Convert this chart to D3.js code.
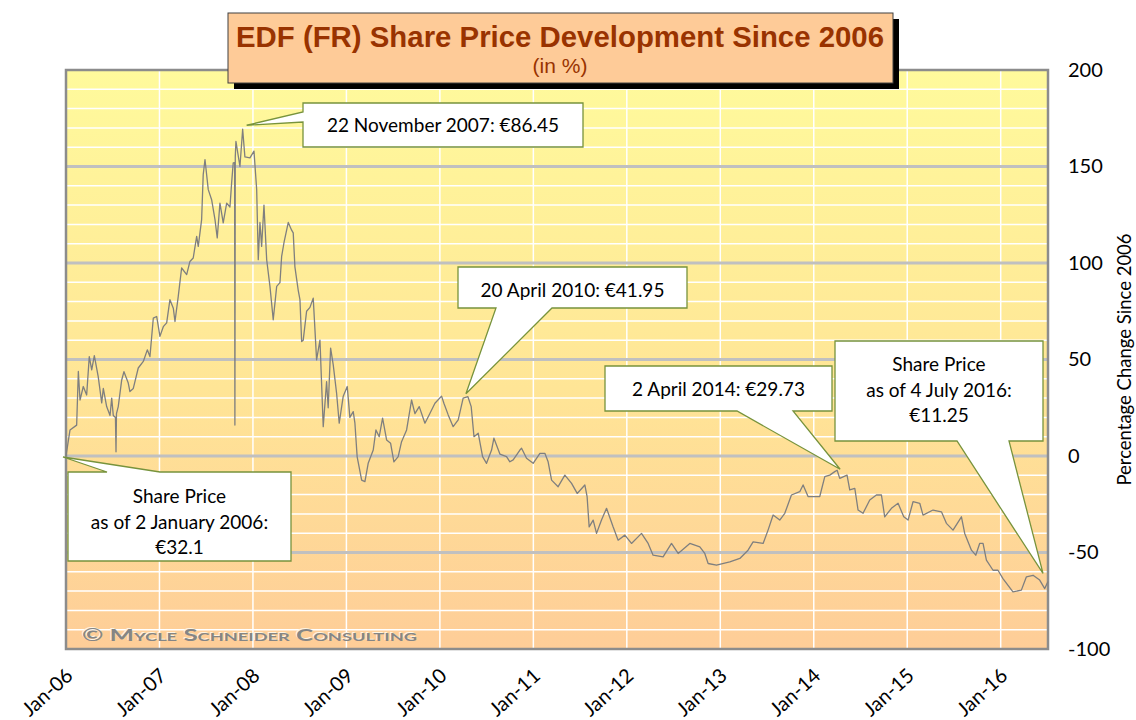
<!DOCTYPE html>
<meta charset="utf-8">
<title>EDF (FR) Share Price Development Since 2006</title>
<style>

body {
  margin: 0;
  background: #fff;
}

text {
  font-family: Lato, "Open Sans", sans-serif;
}

.grid-minor line {
  stroke: #fff;
  stroke-width: 1.5px;
}

.grid-major line {
  stroke: #c0c0c0;
  stroke-width: 3px;
}

.price {
  fill: none;
  stroke: #7f7f7f;
  stroke-width: 1.3px;
  stroke-linejoin: round;
}

.callout path {
  fill: #fff;
  stroke: #77933c;
  stroke-width: 1.3px;
}

</style>
<body>
<script src="https://cdn.jsdelivr.net/npm/d3@7"></script>
<script>

// share price, % change vs 2 January 2006 (decimal year, value)
var years = [
  2006.000, 2006.043, 2006.114, 2006.132, 2006.150, 2006.185, 2006.221, 2006.249, 2006.275, 2006.303,
  2006.345, 2006.382, 2006.399, 2006.435, 2006.471, 2006.489, 2006.506, 2006.529, 2006.535, 2006.540,
  2006.559, 2006.596, 2006.620, 2006.666, 2006.684, 2006.720, 2006.773, 2006.827, 2006.870, 2006.898,
  2006.934, 2006.970, 2007.005, 2007.041, 2007.077, 2007.112, 2007.148, 2007.166, 2007.201, 2007.237,
  2007.291, 2007.326, 2007.361, 2007.398, 2007.415, 2007.451, 2007.468, 2007.487, 2007.522, 2007.558,
  2007.594, 2007.618, 2007.647, 2007.682, 2007.719, 2007.754, 2007.772, 2007.789, 2007.804, 2007.807,
  2007.811, 2007.818, 2007.861, 2007.890, 2007.914, 2007.968, 2008.011, 2008.040, 2008.057, 2008.075,
  2008.093, 2008.118, 2008.147, 2008.182, 2008.217, 2008.254, 2008.289, 2008.307, 2008.332, 2008.378,
  2008.414, 2008.431, 2008.449, 2008.484, 2008.503, 2008.521, 2008.538, 2008.574, 2008.610, 2008.645,
  2008.681, 2008.717, 2008.752, 2008.788, 2008.805, 2008.831, 2008.859, 2008.895, 2008.923, 2008.966,
  2009.009, 2009.037, 2009.073, 2009.091, 2009.115, 2009.163, 2009.198, 2009.233, 2009.287, 2009.316,
  2009.351, 2009.387, 2009.430, 2009.473, 2009.508, 2009.554, 2009.590, 2009.644, 2009.697, 2009.733,
  2009.779, 2009.840, 2009.893, 2009.947, 2010.018, 2010.043, 2010.089, 2010.142, 2010.196, 2010.249,
  2010.300, 2010.335, 2010.365, 2010.410, 2010.457, 2010.499, 2010.553, 2010.578, 2010.642, 2010.713,
  2010.749, 2010.784, 2010.856, 2010.874, 2010.927, 2010.998, 2011.070, 2011.123, 2011.158, 2011.195,
  2011.265, 2011.337, 2011.409, 2011.469, 2011.551, 2011.575, 2011.597, 2011.640, 2011.676, 2011.729,
  2011.783, 2011.853, 2011.907, 2011.979, 2012.050, 2012.157, 2012.228, 2012.281, 2012.388, 2012.478,
  2012.549, 2012.674, 2012.781, 2012.834, 2012.870, 2012.959, 2013.102, 2013.209, 2013.297, 2013.351,
  2013.458, 2013.511, 2013.565, 2013.636, 2013.690, 2013.761, 2013.850, 2013.886, 2013.939, 2014.064,
  2014.118, 2014.171, 2014.225, 2014.250, 2014.278, 2014.356, 2014.385, 2014.439, 2014.474, 2014.527,
  2014.599, 2014.670, 2014.724, 2014.759, 2014.831, 2014.902, 2014.963, 2015.009, 2015.062, 2015.134,
  2015.169, 2015.276, 2015.366, 2015.419, 2015.490, 2015.580, 2015.615, 2015.687, 2015.733, 2015.775,
  2015.811, 2015.847, 2015.918, 2015.971, 2016.024, 2016.131, 2016.221, 2016.275, 2016.346, 2016.417,
  2016.471, 2016.506
];

var pctChange = [
  0, 13.5, 16, 43.8, 29, 36, 31.6, 51.5, 44.6, 52,
  41, 27.5, 35, 25.6, 21, 30, 21, 20, 2.2, 22,
  25.6, 39.4, 43.7, 37.8, 33.4, 35, 45.6, 49, 55, 51.5,
  71.4, 72.3, 62, 67, 69, 81, 76.6, 69.7, 82.7, 97.4,
  94, 100.8, 102.6, 113.8, 108.6, 122.5, 145.8, 153.6, 138, 132.8,
  122.5, 113, 131, 120.8, 131, 129, 141.5, 151.9, 152, 16,
  155, 163, 150, 169.3, 155, 154.5, 158, 138, 101.7, 121,
  108.6, 130, 101.7, 87.9, 70.6, 87.9, 89.8, 103.4, 110.5, 121,
  117, 115.6, 98, 86, 81, 59.3, 60, 75, 77, 81.8,
  49.8, 60, 15.2, 38.5, 25, 55.9, 47.2, 32.5, 17, 31,
  36, 20, 23, 17, -0.4, -12.5, -13.3, -3.8, 3.1, 13.5,
  10, 19.6, 8.3, 6.6, -3, -0.3, 7.4, 13.5, 29, 22,
  25.6, 17, 22, 27.3, 31, 27.3, 21.3, 15.2, 18.7, 30,
  30.7, 25.6, 10, 11.8, -0.3, -3.8, 3.1, 9.2, 1, -0.3,
  -3, -2, 3.1, 4, -1.2, -3.8, 1.4, 1.4, -3, -12.5,
  -15.9, -9.9, -14.2, -19.4, -15, -21, -36.7, -33.2, -40.1, -33.2,
  -27.1, -36.7, -43.6, -41, -45.3, -40.1, -45.3, -51.4, -52.3, -45.3,
  -50.5, -45.3, -47.1, -50.5, -55.7, -56.6, -54.9, -53.1, -48.8, -44.5,
  -45.3, -38.4, -30.6, -33.2, -29.7, -20.2, -18.5, -15, -21, -21,
  -10.7, -9.9, -8.1, -7.4, -11.6, -9.9, -17.6, -16.8, -28, -29.7,
  -22.8, -20.2, -20.2, -31.5, -27.1, -24.5, -31.5, -33.2, -23.7, -24.5,
  -30.6, -28, -28.9, -34.9, -38.4, -31.5, -40.1, -48.8, -51.4, -45.3,
  -45.3, -54, -59.2, -59.2, -63.5, -70.4, -69.5, -62.6, -61.8, -64.3,
  -68.7, -65
];

var yTicks = [-100, -50, 0, 50, 100, 150, 200];
var xTickYears = d3.range(2006, 2017);

// callouts: text lines, data point they point at
var noteLines = [
  ["22 November 2007: €86.45"],
  ["20 April 2010: €41.95"],
  ["2 April 2014: €29.73"],
  ["Share Price", "as of 4 July 2016:", "€11.25"],
  ["Share Price", "as of 2 January 2006:", "€32.1"]
];
var noteYears = [2007.890, 2010.300, 2014.250, 2016.506, 2006.000];
var noteValues = [169.3, 30.7, -7.4, -65, 0];

var data = years.map(function(d, i) { return {year: d, value: pctChange[i]}; });

var width = 1136,
    height = 720,
    plotLeft = 66,
    plotRight = 1048,
    plotTop = 70,
    plotBottom = 649;

var svg = d3.select("body").append("svg")
    .attr("width", width)
    .attr("height", height);

var x = d3.scaleLinear()
    .domain([2006, 2016.506])
    .range([plotLeft, plotRight]);

var y = d3.scaleLinear()
    .domain([-100, 200])
    .range([plotBottom, plotTop]);

var defs = svg.append("defs");
var grad = defs.append("linearGradient")
    .attr("id", "bg")
    .attr("x1", 0).attr("y1", 0)
    .attr("x2", 0).attr("y2", 1);
grad.append("stop").attr("offset", "0%").attr("stop-color", "#fffa9c");
grad.append("stop").attr("offset", "55%").attr("stop-color", "#ffe596");
grad.append("stop").attr("offset", "100%").attr("stop-color", "#fecd98");

svg.append("rect")
    .attr("x", plotLeft)
    .attr("y", plotTop)
    .attr("width", plotRight - plotLeft)
    .attr("height", plotBottom - plotTop)
    .attr("fill", "url(#bg)");

// grid
svg.append("g")
    .attr("class", "grid-minor")
    .selectAll("line")
    .data(d3.range(-90, 200, 10).filter(function(d) { return d % 50; }))
  .enter().append("line")
    .attr("x1", plotLeft)
    .attr("x2", plotRight)
    .attr("y1", function(d) { return y(d); })
    .attr("y2", function(d) { return y(d); });

svg.append("g")
    .attr("class", "grid-minor")
    .selectAll("line")
    .data(xTickYears.slice(1))
  .enter().append("line")
    .attr("x1", function(d) { return x(d); })
    .attr("x2", function(d) { return x(d); })
    .attr("y1", plotTop)
    .attr("y2", plotBottom);

svg.append("g")
    .attr("class", "grid-major")
    .selectAll("line")
    .data(yTicks.slice(1, -1))
  .enter().append("line")
    .attr("x1", plotLeft)
    .attr("x2", plotRight)
    .attr("y1", function(d) { return y(d); })
    .attr("y2", function(d) { return y(d); });

// watermark
var wm = svg.append("g")
    .style("font-family", "'DejaVu Sans', sans-serif")
    .style("font-weight", "bold")
    .style("font-variant", "small-caps")
    .style("font-size", "17px");
wm.append("text")
    .attr("x", 81)
    .attr("y", 640)
    .attr("textLength", 335)
    .attr("lengthAdjust", "spacingAndGlyphs")
    .attr("fill", "#fff4e0")
    .text("© Mycle Schneider Consulting");
wm.append("text")
    .attr("x", 82)
    .attr("y", 641)
    .attr("textLength", 335)
    .attr("lengthAdjust", "spacingAndGlyphs")
    .attr("fill", "#858585")
    .text("© Mycle Schneider Consulting");

// frame
svg.append("rect")
    .attr("x", plotLeft)
    .attr("y", plotTop)
    .attr("width", plotRight - plotLeft)
    .attr("height", plotBottom - plotTop)
    .attr("fill", "none")
    .attr("stroke", "#8c8c8c")
    .attr("stroke-width", 2.5);

// price line
svg.append("path")
    .datum(data)
    .attr("class", "price")
    .attr("d", d3.line()
        .x(function(d) { return x(d.year); })
        .y(function(d) { return y(d.value); }));

// y axis on the right
var yAxis = svg.append("g")
    .attr("transform", "translate(" + (plotRight + 20) + ",0)")
    .call(d3.axisRight(y).tickValues(yTicks).tickFormat(function(d) { return String(d); })
        .tickSize(0).tickPadding(0));
yAxis.select(".domain").remove();
yAxis.selectAll("text")
    .style("font-family", "Lato, sans-serif")
    .style("font-size", "20px")
    .attr("fill", "#000");

svg.append("text")
    .attr("transform", "translate(1131," + ((plotTop + plotBottom) / 2) + ") rotate(-90)")
    .attr("text-anchor", "middle")
    .style("font-size", "18.5px")
    .text("Percentage Change Since 2006");

// x axis labels, rotated
var fmt = function(d) { return "Jan-" + String(d).slice(2); };
var xAxis = svg.append("g")
    .attr("transform", "translate(0," + (plotBottom + 26) + ")")
    .call(d3.axisBottom(x).tickValues(xTickYears).tickFormat(fmt).tickSize(0).tickPadding(0));
xAxis.select(".domain").remove();
xAxis.selectAll("text")
    .style("font-family", "Lato, sans-serif")
    .style("font-size", "20px")
    .attr("fill", "#000")
    .attr("text-anchor", "end")
    .attr("dy", "0.35em")
    .attr("y", 0)
    .attr("x", 4)
    .attr("transform", "rotate(-42)");

// callouts
function callout(b, side, p1, p2, tip) {
  var p = d3.path();
  if (side === "left") {
    p.moveTo(b[0], b[1]); p.lineTo(b[2], b[1]); p.lineTo(b[2], b[3]); p.lineTo(b[0], b[3]);
    p.lineTo(b[0], p2); p.lineTo(tip[0], tip[1]); p.lineTo(b[0], p1);
  } else if (side === "bottom") {
    p.moveTo(b[0], b[1]); p.lineTo(b[2], b[1]); p.lineTo(b[2], b[3]);
    p.lineTo(p2, b[3]); p.lineTo(tip[0], tip[1]); p.lineTo(p1, b[3]); p.lineTo(b[0], b[3]);
  } else {
    p.moveTo(b[0], b[1]); p.lineTo(p1, b[1]); p.lineTo(tip[0], tip[1]); p.lineTo(p2, b[1]);
    p.lineTo(b[2], b[1]); p.lineTo(b[2], b[3]); p.lineTo(b[0], b[3]);
  }
  p.closePath();
  return p.toString();
}

var boxes = [
  {b: [303, 103, 583, 147], side: "left", p1: 112, p2: 122, off: [4, -4], ty: 132},
  {b: [458, 267, 687, 308], side: "bottom", p1: 496, p2: 552, off: [-2, -3], ty: 297},
  {b: [605, 366, 832, 411], side: "bottom", p1: 737, p2: 793, off: [3, -1], ty: 396},
  {b: [835, 341, 1043, 441], side: "bottom", p1: 957, p2: 1009, off: [-5, -8], ty: 371},
  {b: [68, 472, 291, 561], side: "top", p1: 107, p2: 160, off: [-3, 1], ty: 503}
];

var notes = svg.selectAll(".callout")
    .data(boxes)
  .enter().append("g")
    .attr("class", "callout");

notes.append("path")
    .attr("d", function(d, i) {
      var tip = [x(noteYears[i]) + d.off[0], y(noteValues[i]) + d.off[1]];
      return callout(d.b, d.side, d.p1, d.p2, tip);
    });

notes.each(function(d, i) {
  var g = d3.select(this);
  noteLines[i].forEach(function(line, j) {
    g.append("text")
        .attr("x", (d.b[0] + d.b[2]) / 2)
        .attr("y", d.ty + j * 25.5)
        .attr("text-anchor", "middle")
        .style("font-size", "19px")
        .attr("fill", "#000")
        .text(line);
  });
});

// title box
svg.append("rect")
    .attr("x", 234)
    .attr("y", 19)
    .attr("width", 665)
    .attr("height", 70)
    .attr("fill", "#000");
svg.append("rect")
    .attr("x", 228)
    .attr("y", 13)
    .attr("width", 665)
    .attr("height", 70)
    .attr("fill", "#fecb98")
    .attr("stroke", "#404040")
    .attr("stroke-width", 1);
svg.append("text")
    .attr("x", 560)
    .attr("y", 47)
    .attr("text-anchor", "middle")
    .attr("textLength", 648)
    .attr("lengthAdjust", "spacingAndGlyphs")
    .style("font-family", "'Liberation Sans', Arial, sans-serif")
    .style("font-weight", "bold")
    .style("font-size", "30px")
    .attr("fill", "#993300")
    .text("EDF (FR) Share Price Development Since 2006");
svg.append("text")
    .attr("x", 560)
    .attr("y", 73)
    .attr("text-anchor", "middle")
    .style("font-family", "'Liberation Sans', Arial, sans-serif")
    .style("font-size", "21px")
    .attr("fill", "#993300")
    .text("(in %)");

</script>
